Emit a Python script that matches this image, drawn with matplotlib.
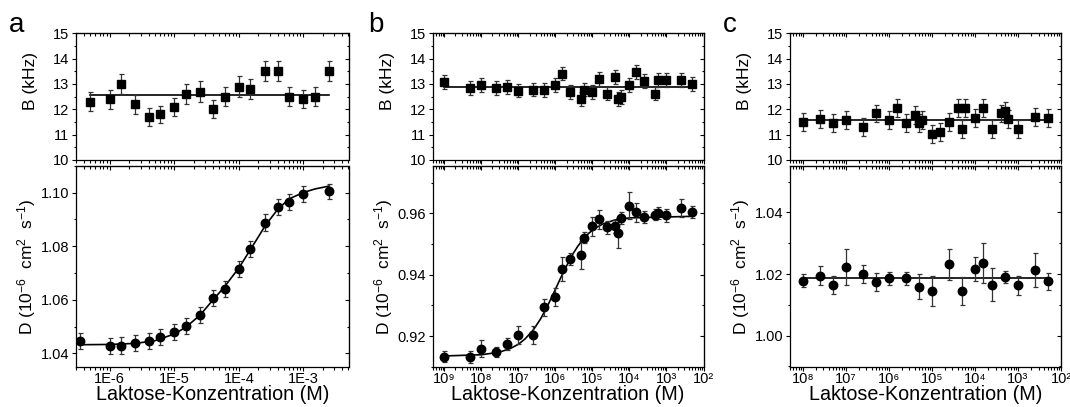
import numpy as np
import matplotlib
matplotlib.use("Agg")
import matplotlib.pyplot as plt
from matplotlib.ticker import FixedLocator, LogLocator, MultipleLocator, NullFormatter, FormatStrFormatter

plt.rcParams['font.family'] = ['Liberation Sans', 'DejaVu Sans']
plt.rcParams['mathtext.fontset'] = 'custom'
plt.rcParams['mathtext.rm'] = 'Liberation Sans'
plt.rcParams['mathtext.it'] = 'Liberation Sans:italic'
plt.rcParams['mathtext.bf'] = 'Liberation Sans:bold'

# ---- panel a ----
a_top_x = [5e-7, 1e-6, 1.5e-6, 2.5e-6, 4e-6, 6e-6, 1e-5, 1.5e-5, 2.5e-5, 4e-5,
           6e-5, 1e-4, 1.5e-4, 2.5e-4, 4e-4, 6e-4, 1e-3, 1.5e-3, 2.5e-3]
a_top_B = [12.3, 12.4, 13.0, 12.2, 11.7, 11.8, 12.1, 12.6, 12.7, 12.0,
           12.5, 12.9, 12.8, 13.5, 13.5, 12.5, 12.4, 12.5, 13.5]
a_top_err = [0.38, 0.38, 0.4, 0.38, 0.35, 0.35, 0.35, 0.38, 0.4, 0.35,
             0.38, 0.4, 0.38, 0.4, 0.4, 0.38, 0.36, 0.38, 0.4]
a_B_fit = 12.57

a_bot_x = [3.5e-7, 1e-6, 1.5e-6, 2.5e-6, 4e-6, 6e-6, 1e-5, 1.5e-5, 2.5e-5, 4e-5,
           6e-5, 1e-4, 1.5e-4, 2.5e-4, 4e-4, 6e-4, 1e-3, 2.5e-3]
a_bot_D = [1.0446, 1.0426, 1.0429, 1.0439, 1.0445, 1.0460, 1.0481, 1.0501, 1.0543, 1.0606,
           1.0641, 1.0713, 1.0790, 1.0888, 1.0945, 1.0966, 1.0994, 1.1004]
a_bot_err = [0.003, 0.003, 0.003, 0.003, 0.003, 0.003, 0.003, 0.003, 0.003, 0.003,
             0.003, 0.003, 0.003, 0.003, 0.003, 0.003, 0.003, 0.0028]
a_fit_x = [3.5e-7, 1e-6, 2.5e-6, 5e-6, 1e-5, 1.5e-5, 2.5e-5, 4e-5, 6e-5, 8e-5,
           1e-4, 1.5e-4, 2e-4, 2.5e-4, 3e-4, 4e-4, 6e-4, 1e-3, 1.5e-3, 2.5e-3]
a_fit_D = [1.0432, 1.0433, 1.0437, 1.0447, 1.0472, 1.0497, 1.0542, 1.0600, 1.0648, 1.0688,
           1.0718, 1.0786, 1.0834, 1.0872, 1.0898, 1.0937, 1.0976, 1.1000, 1.1013, 1.1024]
a_xticks = [1e-6, 1e-5, 1e-4, 1e-3]
a_xlabels = ['1E-6', '1E-5', '1E-4', '1E-3']

# ---- panel b ----
b_x = [1e-9, 5e-9, 1e-8, 2.5e-8, 5e-8, 1e-7, 2.5e-7, 5e-7, 1e-6, 1.5e-6,
       2.5e-6, 5e-6, 6e-6, 1e-5, 1.5e-5, 2.5e-5, 4e-5, 5e-5, 6e-5, 1e-4,
       1.5e-4, 2.5e-4, 5e-4, 6e-4, 1e-3, 2.5e-3, 5e-3]
b_top_B = [13.07, 12.84, 12.95, 12.84, 12.88, 12.74, 12.78, 12.75, 12.96, 13.41,
           12.68, 12.42, 12.78, 12.68, 13.21, 12.62, 13.28, 12.41, 12.49, 12.96,
           13.47, 13.12, 12.62, 13.17, 13.17, 13.17, 13.0]
b_top_err = [0.27] * 27
b_B_fit = 12.89
b_bot_D = [0.9133, 0.9132, 0.9158, 0.9148, 0.9174, 0.9203, 0.9203, 0.9293, 0.9328, 0.9418,
           0.9451, 0.9464, 0.9520, 0.9557, 0.9580, 0.9554, 0.9557, 0.9536, 0.9584, 0.9625,
           0.9603, 0.9587, 0.9595, 0.9602, 0.9593, 0.9617, 0.9605]
b_bot_err = [0.0018, 0.002, 0.0028, 0.0017, 0.002, 0.0028, 0.0028, 0.0028, 0.003, 0.0038,
             0.0018, 0.0045, 0.0018, 0.003, 0.003, 0.0022, 0.002, 0.0048, 0.002, 0.0045,
             0.003, 0.002, 0.0018, 0.002, 0.002, 0.003, 0.002]
b_fit_x = [1e-9, 1e-8, 3e-8, 6e-8, 1e-7, 1.5e-7, 2.5e-7, 4e-7, 6e-7, 8e-7,
           1e-6, 1.3e-6, 1.7e-6, 2.2e-6, 3e-6, 4e-6, 5.5e-6, 8e-6, 1.2e-5, 2e-5,
           4e-5, 1e-4, 5e-3]
b_fit_D = [0.9135, 0.9139, 0.9147, 0.9159, 0.9173, 0.9190, 0.9219, 0.9256, 0.9296, 0.9327,
           0.9352, 0.9382, 0.9411, 0.9438, 0.9468, 0.9492, 0.9514, 0.9535, 0.9552, 0.9566,
           0.9578, 0.9585, 0.9590]
b_xticks = [1e-9, 1e-8, 1e-7, 1e-6, 1e-5, 1e-4, 1e-3, 1e-2]
b_xlabels = ['10⁹', '10⁸', '10⁷', '10⁶', '10⁵', '10⁴', '10³', '10²']

# ---- panel c ----
c_top_x = [1e-8, 2.5e-8, 5e-8, 1e-7, 2.5e-7, 5e-7, 1e-6, 1.5e-6, 2.5e-6, 4e-6,
           5e-6, 6e-6, 1e-5, 1.5e-5, 2.5e-5, 4e-5, 5e-5, 6e-5, 1e-4, 1.5e-4,
           2.5e-4, 4e-4, 5e-4, 6e-4, 1e-3, 2.5e-3, 5e-3]
c_top_B = [11.51, 11.63, 11.46, 11.58, 11.30, 11.84, 11.58, 12.04, 11.46, 11.79,
           11.46, 11.58, 11.04, 11.11, 11.51, 12.04, 11.21, 12.04, 11.66, 12.04,
           11.21, 11.84, 11.93, 11.63, 11.21, 11.70, 11.66]
c_top_err = [0.35] * 27
c_B_fit = 11.57
c_bot_x = [1e-8, 2.5e-8, 5e-8, 1e-7, 2.5e-7, 5e-7, 1e-6, 2.5e-6, 5e-6, 1e-5,
           2.5e-5, 5e-5, 1e-4, 1.5e-4, 2.5e-4, 5e-4, 1e-3, 2.5e-3, 5e-3]
c_bot_D = [1.0179, 1.0195, 1.0165, 1.0223, 1.0201, 1.0174, 1.0186, 1.0186, 1.0159, 1.0145,
           1.0232, 1.0145, 1.0217, 1.0237, 1.0166, 1.0190, 1.0163, 1.0213, 1.0176]
c_bot_err = [0.002, 0.003, 0.003, 0.006, 0.003, 0.003, 0.002, 0.002, 0.004, 0.005,
             0.005, 0.0045, 0.004, 0.0065, 0.0055, 0.002, 0.003, 0.0055, 0.0027]
c_D_fit = 1.0186
c_xticks = [1e-8, 1e-7, 1e-6, 1e-5, 1e-4, 1e-3, 1e-2]
c_xlabels = ['10⁸', '10⁷', '10⁶', '10⁵', '10⁴', '10³', '10²']

W, H = 1070, 407
fig = plt.figure(figsize=(W / 100, H / 100), dpi=100)


def px_axes(left, right, top, bottom):
    return fig.add_axes([left / W, 1 - bottom / H, (right - left) / W, (bottom - top) / H])


def style(ax, xlim, ylim, ymaj, ymin, xticks, xlabels=None, yfmt=None):
    ax.set_xscale('log')
    ax.set_xlim(*xlim)
    ax.set_ylim(*ylim)
    ax.xaxis.set_major_locator(FixedLocator(xticks))
    ax.xaxis.set_minor_locator(LogLocator(base=10, subs=np.arange(2, 10), numticks=60))
    ax.yaxis.set_major_locator(MultipleLocator(ymaj))
    ax.yaxis.set_minor_locator(MultipleLocator(ymin))
    ax.tick_params(which='both', direction='out', width=0.8, labelsize=10.5, pad=1.5)
    ax.tick_params(which='major', length=3.2)
    ax.tick_params(which='minor', length=1.8)
    ax.tick_params(axis='x', pad=0.6)
    ax.xaxis.set_minor_formatter(NullFormatter())
    if xlabels is None:
        ax.xaxis.set_major_formatter(NullFormatter())
    else:
        ax.set_xticklabels(xlabels)
    if yfmt:
        ax.yaxis.set_major_formatter(FormatStrFormatter(yfmt))
    for s in ax.spines.values():
        s.set_linewidth(0.9)
    sx = ax.secondary_xaxis('top')
    sx.xaxis.set_major_locator(FixedLocator(xticks))
    sx.xaxis.set_minor_locator(LogLocator(base=10, subs=np.arange(2, 10), numticks=60))
    sx.tick_params(which='both', direction='in', labeltop=False, width=0.8)
    sx.tick_params(which='major', length=3.2)
    sx.tick_params(which='minor', length=1.8)
    sy = ax.secondary_yaxis('right')
    sy.yaxis.set_major_locator(MultipleLocator(ymaj))
    sy.yaxis.set_minor_locator(MultipleLocator(ymin))
    sy.tick_params(which='both', direction='in', labelright=False, width=0.8)
    sy.tick_params(which='major', length=3.2)
    sy.tick_params(which='minor', length=1.8)


ebkw = dict(ls='none', color='black', ecolor='#333333', elinewidth=0.9, capsize=1.8, capthick=0.9)
fitkw = dict(color='black', lw=1.2)

panels = [
    dict(left=76, right=348.5, letter='a', letter_x=9,
         xlim=(3e-7, 5e-3), xticks=a_xticks, xlabels=a_xlabels,
         tx=a_top_x, tB=a_top_B, tE=a_top_err, tfit=a_B_fit,
         bx=a_bot_x, bD=a_bot_D, bE=a_bot_err, fx=a_fit_x, fD=a_fit_D,
         dlim=(1.035, 1.110), dmaj=0.02, dmin=0.01),
    dict(left=432.5, right=703.5, letter='b', letter_x=368,
         xlim=(4.8e-10, 1e-2), xticks=b_xticks, xlabels=b_xlabels,
         tx=b_x, tB=b_top_B, tE=b_top_err, tfit=b_B_fit,
         bx=b_x, bD=b_bot_D, bE=b_bot_err, fx=b_fit_x, fD=b_fit_D,
         dlim=(0.910, 0.9755), dmaj=0.02, dmin=0.01),
    dict(left=790, right=1061, letter='c', letter_x=723,
         xlim=(5e-9, 1e-2), xticks=c_xticks, xlabels=c_xlabels,
         tx=c_top_x, tB=c_top_B, tE=c_top_err, tfit=c_B_fit,
         bx=c_bot_x, bD=c_bot_D, bE=c_bot_err, fx=None, fD=c_D_fit,
         dlim=(0.9899, 1.0552), dmaj=0.02, dmin=0.01),
]

for p in panels:
    top = px_axes(p['left'], p['right'], 33.3, 160)
    bot = px_axes(p['left'], p['right'], 165.7, 366.7)

    tx = np.array(p['tx'])
    top.plot([tx.min(), tx.max()], [p['tfit'], p['tfit']], **fitkw)
    top.errorbar(tx, p['tB'], yerr=p['tE'], marker='s', ms=5.7, **ebkw)
    style(top, p['xlim'], (10, 15), 1, 0.5, p['xticks'], None, '%d')
    top.set_ylabel('B (kHz)', fontsize=12.5)
    top.yaxis.set_label_coords(-0.14, 0.62)

    bx = np.array(p['bx'])
    if p['fx'] is None:
        bot.plot([bx.min(), bx.max()], [p['fD'], p['fD']], **fitkw)
    else:
        bot.plot(p['fx'], p['fD'], **fitkw)
    bot.errorbar(bx, p['bD'], yerr=p['bE'], marker='o', ms=6.1, **ebkw)
    style(bot, p['xlim'], p['dlim'], p['dmaj'], p['dmin'], p['xticks'], p['xlabels'], '%.2f')
    bot.set_ylabel('D (10$^{-6}$  cm$^{2}$  s$^{-1}$)', fontsize=12.5)
    bot.yaxis.set_label_coords(-0.14, 0.5)
    bot.set_xlabel('Laktose-Konzentration (M)', fontsize=14.2)
    bot.xaxis.set_label_coords(0.5, -0.091)

    fig.text(p['letter_x'] / W, 1 - 32 / H, p['letter'], fontsize=20, va='baseline', ha='left')

fig.savefig('out.png', dpi=100)
